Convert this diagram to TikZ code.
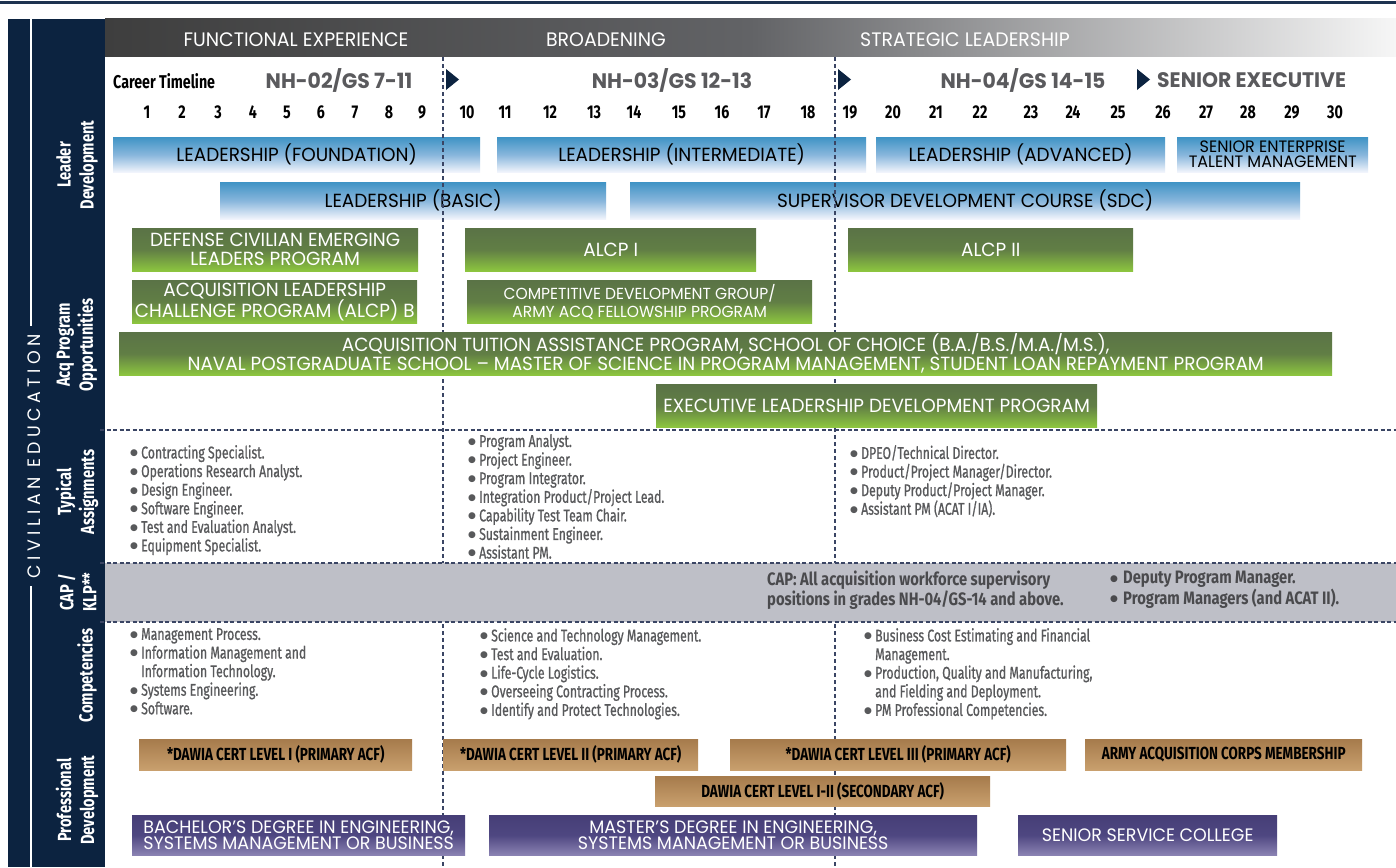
\documentclass[tikz,border=0pt]{standalone}
\usepackage{fontspec}
\setmainfont{Fira Sans}
\newfontfamily\fut[FakeStretch=0.97]{Poppins}
\newfontfamily\cnd[FakeStretch=0.77]{Fira Sans}
\newfontfamily\cndl[FakeStretch=0.72,FakeBold=0.8]{Fira Sans}
\newfontfamily\cndb[FakeStretch=0.82]{Fira Sans}
\newfontfamily\dvs{DejaVu Sans}
\definecolor{navy}{HTML}{0C2340}
\definecolor{rulec}{HTML}{1E3350}
\definecolor{dashc}{HTML}{3A4564}
\definecolor{txtgray}{HTML}{58595B}
\definecolor{nhgray}{HTML}{5A5A5D}
\definecolor{capgray}{HTML}{4A4A4D}
\definecolor{bandgray}{HTML}{BEBFC7}
\definecolor{hdark}{HTML}{3E3E3E}
\definecolor{hmid}{HTML}{626366}
\definecolor{hlight}{HTML}{F6F6F6}
\definecolor{bluetop}{HTML}{3F93C5}
\definecolor{bluemid}{HTML}{88B6DC}
\definecolor{bluebot}{HTML}{F2F5FC}
\definecolor{greentop}{HTML}{5A7346}
\definecolor{greenmid}{HTML}{617E45}
\definecolor{greenbot}{HTML}{8DC63F}
\definecolor{tantop}{HTML}{A67B4C}
\definecolor{tanbot}{HTML}{C9A06E}
\definecolor{purtop}{HTML}{463E77}
\definecolor{purmid}{HTML}{4E4781}
\definecolor{purbot}{HTML}{8B83B3}
\newcommand\bl{\makebox[11pt][l]{\raisebox{2.6pt}{\dvs\fontsize{9}{9}\selectfont ●}}}
\newcommand\blb{\makebox[13pt][l]{\raisebox{2.6pt}{\dvs\fontsize{9}{9}\selectfont ●}}}
\newcommand\ind{\hspace*{11pt}}
\tikzset{
 barbase/.style={inner sep=0pt, anchor=north west, align=center},
 bluebar/.style={barbase, top color=bluetop, bottom color=bluebot, middle color=bluemid, text=black, font=\fut\fontsize{19}{19}\selectfont},
 greenbar/.style={barbase, top color=greentop, bottom color=greenbot, middle color=greenmid, text=white, font=\fut\fontsize{19}{19}\selectfont},
 tanbar/.style={barbase, top color=tantop, bottom color=tanbot, text=black, font=\cnd\bfseries\fontsize{17.5}{17.5}\selectfont},
 purbar/.style={barbase, top color=purtop, bottom color=purbot, middle color=purmid, text=white, font=\fut\fontsize{18}{16}\selectfont},
 hdr/.style={text=white, inner sep=0pt, font=\fut\fontsize{19.5}{19.5}\selectfont},
 nh/.style={text=nhgray, inner sep=0pt, font=\fut\bfseries\fontsize{21}{21}\selectfont},
 num/.style={text=black, inner sep=0pt, font=\cnd\bfseries\fontsize{18.5}{18.5}\selectfont},
 side/.style={rotate=90, text=white, inner sep=0pt, align=center, font=\cnd\bfseries\fontsize{19}{23}\selectfont},
 lst/.style={anchor=north west, inner sep=0pt, align=left, text=txtgray, font=\cndl\fontsize{17}{18.6}\selectfont},
 caplst/.style={anchor=north west, inner sep=0pt, align=left, text=capgray, font=\cndb\bfseries\fontsize{18}{18}\selectfont},
 hdash/.style={draw=dashc, line width=2pt, dash pattern=on 4pt off 2.5pt},
 vdash/.style={draw=dashc, line width=2pt, dash pattern=on 4pt off 3pt},
}
\begin{document}
\begin{tikzpicture}[x=1pt,y=-1pt]
\useasboundingbox (0,0) rectangle (1396,867);
\fill[white] (0,0) rectangle (1396,867);
\draw[rulec, line width=3pt] (0,2.5) -- (1396,2.5);
% sidebar
\fill[navy] (8,19) rectangle (105,867);
\draw[white, line width=1.6pt] (31,19) -- (31,326);
\draw[white, line width=1.6pt] (31,586) -- (31,867);
\node[rotate=90, text=white, inner sep=0pt, font=\fut\fontsize{18}{18}\selectfont\addfontfeature{LetterSpace=25}] (civ) at (34,456) {CIVILIAN EDUCATION};
\node[side] (sl1) at (77,165) {Leader\\Development};
\node[side] (sl2) at (77,345) {Acq Program\\Opportunities};
\node[side] (sl3) at (77,492) {Typical\\Assignments};
\node[side] (sl4) at (77,592) {CAP /\\KLP**};
\node[side] (sl5) at (87,675) {Competencies};
\node[side] (sl6) at (77,800) {Professional\\Development};
% header
\shade[left color=hdark, right color=hlight, middle color=hmid] (105,19) rectangle (1396,57);
\node[hdr] (h1) at (296,40) {FUNCTIONAL EXPERIENCE};
\node[hdr] (h2) at (606,40) {BROADENING};
\node[hdr] (h3) at (965,40) {STRATEGIC LEADERSHIP};
% timeline
\node[anchor=west, inner sep=0pt, text=black, font=\cnd\bfseries\fontsize{18.5}{18.5}\selectfont] (ct) at (113,81) {Career Timeline};
\node[nh] (g1) at (339,80) {NH-02/GS 7-11};
\node[nh] (g2) at (672,80) {NH-03/GS 12-13};
\node[nh] (g3) at (1023,80) {NH-04/GS 14-15};
\node[nh, anchor=west] (g4) at (1157,80) {SENIOR EXECUTIVE};
\fill[navy] (446,69) -- (459,79.5) -- (446,90) -- cycle;
\fill[navy] (838,69) -- (851,79.5) -- (838,90) -- cycle;
\fill[navy] (1137,69) -- (1150,79.5) -- (1137,90) -- cycle;
\foreach \n/\x in {1/147,2/182,3/218,4/253,5/287,6/321,7/355,8/389,9/422,10/467,11/505,12/550,13/594,14/634,15/679,16/722,17/764,18/808,19/850,20/893,21/936,22/980,23/1031,24/1073,25/1118,26/1163,27/1206,28/1248,29/1292,30/1335}
  \node[num] (n\n) at (\x,112) {\n};
% blue bars
\node[bluebar, minimum width=367pt, minimum height=35pt] (found) at (113,137) {LEADERSHIP (FOUNDATION)};
\node[bluebar, minimum width=369pt, minimum height=35pt] (inter) at (497,137) {LEADERSHIP (INTERMEDIATE)};
\node[bluebar, minimum width=289pt, minimum height=35pt] (adv) at (876,137) {LEADERSHIP (ADVANCED)};
\node[bluebar, minimum width=191pt, minimum height=35pt, font=\fut\fontsize{16.5}{15}\selectfont] (set) at (1177,137) {SENIOR ENTERPRISE\\TALENT MANAGEMENT};
\node[bluebar, minimum width=386pt, minimum height=37pt] (basic) at (220,182) {LEADERSHIP (BASIC)};
\node[bluebar, minimum width=670pt, minimum height=37pt] (sdc) at (630,182) {SUPERVISOR DEVELOPMENT COURSE (SDC)};
% vertical dashed lines
\draw[vdash] (443,57) -- (443,867);
\draw[vdash] (835,57) -- (835,867);
% green bars
\node[greenbar, minimum width=286pt, minimum height=43pt] (dcelp) at (132,228) {DEFENSE CIVILIAN EMERGING\\LEADERS PROGRAM};
\node[greenbar, minimum width=291pt, minimum height=43pt] (alcp1) at (465,228) {ALCP I};
\node[greenbar, minimum width=285pt, minimum height=43pt] (alcp2) at (848,228) {ALCP II};
\node[greenbar, minimum width=285pt, minimum height=43pt] (alcpb) at (132,280) {ACQUISITION LEADERSHIP\\CHALLENGE PROGRAM (ALCP) B};
\node[greenbar, minimum width=345pt, minimum height=43pt, font=\fut\fontsize{16}{18}\selectfont] (cdg) at (467,280) {COMPETITIVE DEVELOPMENT GROUP/\\ARMY ACQ FELLOWSHIP PROGRAM};
\node[greenbar, minimum width=1213pt, minimum height=43pt] (tuit) at (119,332) {ACQUISITION TUITION ASSISTANCE PROGRAM, SCHOOL OF CHOICE (B.A./B.S./M.A./M.S.),\\NAVAL POSTGRADUATE SCHOOL – MASTER OF SCIENCE IN PROGRAM MANAGEMENT, STUDENT LOAN REPAYMENT PROGRAM};
\node[greenbar, minimum width=441pt, minimum height=43pt] (eldp) at (656,384) {EXECUTIVE LEADERSHIP DEVELOPMENT PROGRAM};
% CAP band
\fill[bandgray] (105,563) rectangle (1396,622);
\draw[hdash] (100,430) -- (1396,430);
\draw[hdash] (100,563) -- (1396,563);
\draw[hdash] (100,622) -- (1396,622);
% typical assignments
\node[lst] (ta1) at (130,445) {\bl Contracting Specialist.\\\bl Operations Research Analyst.\\\bl Design Engineer.\\\bl Software Engineer.\\\bl Test and Evaluation Analyst.\\\bl Equipment Specialist.};
\node[lst] (ta2) at (468,434) {\bl Program Analyst.\\\bl Project Engineer.\\\bl Program Integrator.\\\bl Integration Product/Project Lead.\\\bl Capability Test Team Chair.\\\bl Sustainment Engineer.\\\bl Assistant PM.};
\node[lst] (ta3) at (850,445) {\bl DPEO/Technical Director.\\\bl Product/Project Manager/Director.\\\bl Deputy Product/Project Manager.\\\bl Assistant PM (ACAT I/IA).};
% CAP
\node[caplst] (cap1) at (767,571) {CAP: All acquisition workforce supervisory\\positions in grades NH-04/GS-14 and above.};
\node[caplst] (cap2) at (1110,571) {\blb Deputy Program Manager.\\\blb Program Managers (and ACAT II).};
% competencies
\node[lst] (co1) at (130,628) {\bl Management Process.\\\bl Information Management and\\\ind Information Technology.\\\bl Systems Engineering.\\\bl Software.};
\node[lst] (co2) at (480,628) {\bl Science and Technology Management.\\\bl Test and Evaluation.\\\bl Life-Cycle Logistics.\\\bl Overseeing Contracting Process.\\\bl Identify and Protect Technologies.};
\node[lst] (co3) at (864,628) {\bl Business Cost Estimating and Financial\\\ind Management.\\\bl Production, Quality and Manufacturing,\\\ind and Fielding and Deployment.\\\bl PM Professional Competencies.};
% professional development
\node[tanbar, minimum width=273pt, minimum height=31pt] (d1) at (139,739) {*DAWIA CERT LEVEL I (PRIMARY ACF)};
\node[tanbar, minimum width=255pt, minimum height=31pt] (d2) at (443,739) {*DAWIA CERT LEVEL II (PRIMARY ACF)};
\node[tanbar, minimum width=336pt, minimum height=31pt] (d3) at (730,739) {*DAWIA CERT LEVEL III (PRIMARY ACF)};
\node[tanbar, minimum width=277pt, minimum height=31pt] (aac) at (1085,739) {ARMY ACQUISITION CORPS MEMBERSHIP};
\node[tanbar, minimum width=335pt, minimum height=30pt] (dsec) at (655,776) {DAWIA CERT LEVEL I-II (SECONDARY ACF)};
\node[purbar, minimum width=333pt, minimum height=40pt] (bach) at (132,815) {BACHELOR’S DEGREE IN ENGINEERING,\\SYSTEMS MANAGEMENT OR BUSINESS};
\node[purbar, minimum width=488pt, minimum height=40pt] (mast) at (489,815) {MASTER’S DEGREE IN ENGINEERING,\\SYSTEMS MANAGEMENT OR BUSINESS};
\node[purbar, minimum width=259pt, minimum height=40pt] (ssc) at (1018,815) {SENIOR SERVICE COLLEGE};
\end{tikzpicture}
\end{document}
